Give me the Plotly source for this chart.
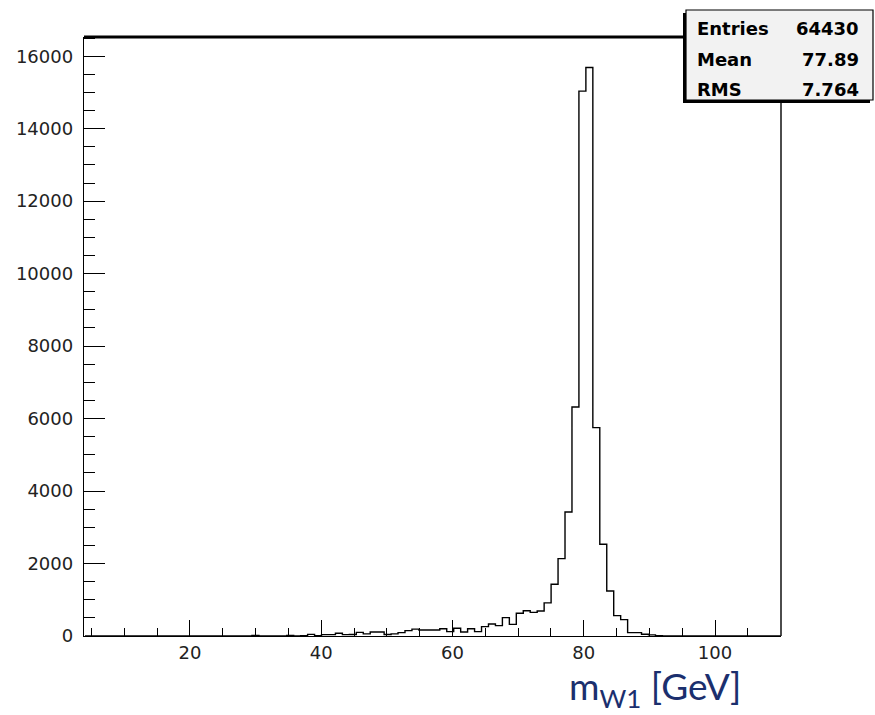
import plotly.graph_objects as go

# ---------------- data ----------------
bin_low = 4.0
bin_width = 1.06
counts_low = [0] * 24
counts_tail = [12, 0, 0, 0, 0, 15, 0, 5,
               46, 10, 37, 37, 74, 37, 40, 101, 60, 110,
               110, 40, 60, 92, 147, 190, 166, 166, 166, 200,
               120, 215, 110, 200, 120, 258, 330, 285, 506, 320,
               626, 695, 653, 690, 915, 1430, 2135, 3423, 6321, 15035,
               15689, 5751, 2531, 1242, 563, 452, 93, 93, 47, 30, 10]
counts_high = [0] * 17
counts = counts_low + counts_tail + counts_high

stat_names = ["Entries", "Mean", "RMS"]
stat_values = ["64430", "77.89", "7.764"]

x_ticks = [20, 40, 60, 80, 100]
x_ticktext = ["20", "40", "60", "80", "100"]
y_ticks = [0, 2000, 4000, 6000, 8000, 10000, 12000, 14000, 16000]
y_ticktext = ["0", "2000", "4000", "6000", "8000", "10000", "12000", "14000", "16000"]

# ---------------- geometry (pixels) ----------------
W, H = 875, 715
L, R, T, B = 84, 781, 37, 636
pw, ph = R - L, B - T

def px(xp):
    return (xp - L) / pw

def py(yp):
    return (B - yp) / ph

edges = [bin_low + i * bin_width for i in range(len(counts) + 1)]
ys = counts + [counts[-1]]

fig = go.Figure()
fig.add_trace(go.Scatter(x=edges, y=ys, mode="lines", line_shape="hv",
                         line=dict(color="black", width=1.4),
                         hoverinfo="skip", showlegend=False))

tickfont = dict(family="DejaVu Sans", size=18, color="#222222")

fig.update_layout(
    width=W, height=H,
    margin=dict(l=L, r=W - R, t=T, b=H - B, pad=0),
    paper_bgcolor="white", plot_bgcolor="white",
    showlegend=False,
    xaxis=dict(range=[3.85, 110.05], tickvals=x_ticks, ticktext=x_ticktext,
               ticks="inside", ticklen=16,
               tickwidth=1.4, tickcolor="black", showgrid=False, zeroline=False,
               showline=True, linecolor="black", linewidth=1.4,
               tickfont=tickfont, ticklabelstandoff=0,
               minor=dict(dtick=5, tick0=0, ticks="inside", ticklen=8,
                          tickwidth=1.4, tickcolor="black", showgrid=False)),
    yaxis=dict(range=[0, 16530], tickvals=y_ticks, ticktext=y_ticktext,
               ticks="inside", ticklen=21,
               tickwidth=1.4, tickcolor="black", showgrid=False, zeroline=False,
               showline=True, linecolor="black", linewidth=1.4,
               tickfont=tickfont, ticklabelstandoff=6,
               minor=dict(dtick=500, tick0=0, ticks="inside", ticklen=11,
                          tickwidth=1.4, tickcolor="black", showgrid=False)),
)

# frame: right thin, top thick
fig.add_shape(type="line", xref="paper", yref="paper", x0=1, x1=1, y0=0, y1=1,
              line=dict(color="black", width=1.4))
fig.add_shape(type="line", xref="paper", yref="paper", x0=0, x1=1, y0=1, y1=1,
              line=dict(color="black", width=3))

# stats box with shadow (left & bottom)
bx0, bx1, by0, by1 = 686, 873, 10, 100
fig.add_shape(type="rect", xref="paper", yref="paper",
              x0=px(bx0 - 3), x1=px(bx1 - 3), y0=py(by1 + 3), y1=py(by0 + 3),
              line=dict(width=0), fillcolor="black")
fig.add_shape(type="rect", xref="paper", yref="paper",
              x0=px(bx0), x1=px(bx1), y0=py(by1), y1=py(by0),
              line=dict(color="black", width=1.2), fillcolor="#f2f2f2")

row_centers = [28.5, 60, 89]
for name, val, yc in zip(stat_names, stat_values, row_centers):
    fig.add_annotation(xref="paper", yref="paper", x=px(695), y=py(yc),
                       text=name, showarrow=False, xanchor="left", yanchor="middle",
                       font=dict(family="DejaVu Sans", size=18, color="black", weight="bold"))
    fig.add_annotation(xref="paper", yref="paper", x=px(861), y=py(yc),
                       text=val, showarrow=False, xanchor="right", yanchor="middle",
                       font=dict(family="DejaVu Sans", size=18, color="black", weight="bold"))

# axis title placed like slide text
fig.add_annotation(xref="paper", yref="paper", x=px(743), y=py(716),
                   text="m<sub>W1</sub> [GeV]", showarrow=False,
                   xanchor="right", yanchor="bottom",
                   font=dict(family="Lato", size=37, color="#1b2f6e"))

fig.write_html("out.html")
